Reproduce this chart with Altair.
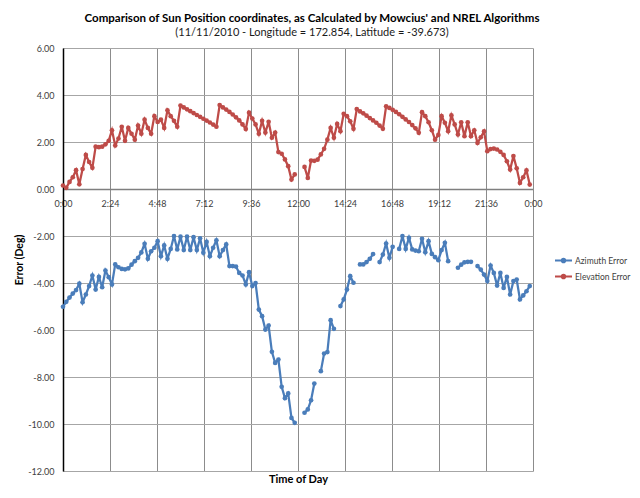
import json
import altair as alt
import pandas as pd

# ---------------- data ----------------
minutes = list(range(0, 1440, 10))  # one sample every 10 minutes

elevation = [
    0.15, 0.05, 0.30, 0.50, 0.80, 0.20, 0.85, 1.45, 1.15, 0.90,
    1.80, 1.78, 1.80, 1.90, 2.05, 2.50, 1.85, 2.15, 2.65, 2.05,
    2.60, 2.35, 2.10, 2.70, 2.35, 2.95, 2.60, 2.35, 3.10, 2.85,
    2.95, 2.60, 3.35, 3.10, 2.90, 2.65, 3.55, 3.47, 3.39, 3.31,
    3.23, 3.15, 3.07, 2.99, 2.91, 2.83, 2.74, 2.65, 3.57, 3.47,
    3.38, 3.28, 3.17, 3.05, 2.92, 2.75, 2.55, 3.25, 3.00, 2.75,
    2.35, 2.90, 2.40, 2.86, 2.18, 2.40, 1.57, 1.50, 1.26, 0.97,
    0.40, 0.62, None, None, 0.94, 0.47, 1.21, 1.20, 1.25, 1.47,
    1.71, 2.10, 2.60, 2.18, 2.77, 2.46, 3.20, 3.10, 2.88, 2.56,
    3.40, 3.30, 3.22, 3.12, 3.02, 2.92, 2.82, 2.70, 2.56, 3.52,
    3.45, 3.37, 3.28, 3.18, 3.07, 2.96, 2.85, 2.72, 2.58, 2.39,
    3.27, 3.10, 2.84, 2.50, 2.10, 2.30, 3.10, 2.82, 2.46, 3.13,
    2.75, 2.32, 2.84, 2.25, 2.84, 2.25, 2.50, 1.96, 2.20, 2.45,
    1.61, 1.70, 1.72, 1.68, 1.58, 1.45, 1.18, 0.83, 1.40, 0.88,
    0.26, 0.50, 0.79, 0.19,
]

azimuth = [
    -5.01, -4.80, -4.62, -4.45, -4.30, -4.03, -4.82, -4.49, -4.13, -3.68,
    -4.28, -3.74, -4.18, -3.47, -3.75, -4.06, -3.21, -3.33, -3.40, -3.42,
    -3.38, -3.22, -3.07, -2.93, -2.70, -2.33, -2.97, -2.65, -2.50, -2.22,
    -2.86, -2.40, -2.97, -2.55, -2.00, -2.57, -2.03, -2.60, -2.03, -2.60,
    -2.05, -2.60, -2.10, -2.71, -2.25, -2.86, -2.50, -2.18, -2.86, -2.60,
    -2.36, -3.28, -3.28, -3.30, -3.57, -3.68, -4.06, -3.54, -4.13, -4.00,
    -5.13, -5.41, -5.98, -5.81, -6.93, -7.40, -7.26, -8.42, -8.90, -8.70,
    -9.74, -9.95, None, None, -9.52, -9.38, -8.99, -8.28, None, -7.75,
    -7.00, -6.94, -5.58, -5.95, None, -4.98, -4.70, -4.28, -3.71, -3.99,
    None, -3.21, -3.21, -3.11, -2.97, -2.77, None, -3.11, -2.79, -2.32,
    -2.93, -2.46, None, -2.55, -2.00, -2.55, -2.08, -2.57, -2.62, -2.65,
    -2.12, -2.69, -2.22, -2.76, -2.90, -3.03, -2.60, -2.29, -3.07, None,
    None, -3.35, -3.22, -3.12, -3.10, -3.10, None, -3.28, -3.43, -3.64,
    -3.92, -3.26, -3.57, -4.11, -3.57, -4.21, -3.74, -4.49, -3.92, -3.85,
    -4.70, -4.53, -4.35, -4.13,
]

series_names = ["Azimuth Error", "Elevation Error"]
series_colors = ["#4A7DBA", "#BE4B48"]

tick_hours = [0, 2.4, 4.8, 7.2, 9.6, 12, 14.4, 16.8, 19.2, 21.6, 24]
tick_labels = ["0:00", "2:24", "4:48", "7:12", "9:36", "12:00",
               "14:24", "16:48", "19:12", "21:36", "0:00"]
y_ticks = [-12, -10, -8, -6, -4, -2, 0, 2, 4, 6]

title_text = "Comparison of Sun Position coordinates, as Calculated by Mowcius' and NREL Algorithms"
subtitle_text = "(11/11/2010 - Longitude = 172.854, Latitude = -39.673)"

# ---------------- table ----------------
rows = []
for m, a, e in zip(minutes, azimuth, elevation):
    rows.append({"hour": m / 60, "series": series_names[0], "value": a})
    rows.append({"hour": m / 60, "series": series_names[1], "value": e})
df = pd.DataFrame(rows)

# ---------------- layout / style ----------------
W, H = 470, 423
Y_MIN, Y_MAX = y_ticks[0], y_ticks[-1]
FONT = "Lato"
zero_offset = -H * (0 - Y_MIN) / (Y_MAX - Y_MIN)

x_scale = alt.Scale(domain=[tick_hours[0], tick_hours[-1]], nice=False, zero=False)
y_scale = alt.Scale(domain=[Y_MIN, Y_MAX], nice=False)

label_expr = f"{json.dumps(tick_labels)}[round(datum.value / {tick_hours[1]})]"

x_axis_main = alt.Axis(
    orient="bottom", values=tick_hours, labels=False, ticks=False, domain=False,
    grid=True, gridColor="#8C8C8C", gridWidth=1,
    title="Time of Day", titleFont=FONT, titleFontSize=11, titleFontWeight="bold",
    titleColor="#000000", titlePadding=2,
)
x_axis_zero = alt.Axis(
    orient="bottom", offset=zero_offset, values=tick_hours, labelExpr=label_expr,
    labelFont=FONT, labelFontSize=9, labelColor="#404040", labelPadding=10,
    labelFlush=False, ticks=False, domain=True, domainColor="#7F7F7F",
    domainWidth=1.5, grid=False, title=None,
)
y_axis = alt.Axis(
    values=y_ticks, labelExpr="replace(format(datum.value, '.2f'), '\u2212', '-')",
    labelFont=FONT, labelFontSize=9, labelColor="#404040", labelPadding=9,
    ticks=False, domain=True, domainColor="#000000", domainWidth=1.5,
    grid=True, gridColor="#A6A6A6", gridWidth=1,
    title="Error (Deg)", titleFont=FONT, titleFontSize=10.5, titleFontWeight="bold",
    titleColor="#000000", titleX=-44, titleBaseline="middle",
)

legend_props = dict(
    orient="none", legendX=491, legendY=203, title=None,
    symbolType="M-1,0L1,0M-0.22,0A0.22,0.22,0,1,1,0.22,0A0.22,0.22,0,1,1,-0.22,0Z",
    symbolSize=289, symbolStrokeWidth=2,
    labelFont=FONT, labelFontSize=8.5, labelColor="#404040", labelOffset=2,
    rowPadding=0, padding=0,
)
color_scale = alt.Scale(domain=series_names, range=series_colors)

base = alt.Chart(df)

lines = base.mark_line(strokeWidth=2.25, invalid="break-paths-show-domains").encode(
    x=alt.X("hour:Q", scale=x_scale, axis=x_axis_main),
    y=alt.Y("value:Q", scale=y_scale, axis=y_axis),
    stroke=alt.Stroke("series:N", scale=color_scale, legend=alt.Legend(**legend_props)),
    order=alt.Order("hour:Q"),
)

points = base.mark_circle(size=22, opacity=1).encode(
    x=alt.X("hour:Q", scale=x_scale, axis=x_axis_zero),
    y=alt.Y("value:Q", scale=y_scale, axis=y_axis),
    fill=alt.Fill("series:N", scale=color_scale, legend=alt.Legend(**legend_props)),
)

chart = (
    alt.layer(lines, points)
    .resolve_axis(x="independent")
    .properties(
        width=W, height=H,
        title=alt.Title(
            title_text, subtitle=subtitle_text, font=FONT, fontSize=11.5,
            fontWeight="bold", color="#000000", subtitleFont=FONT,
            subtitleFontSize=11, subtitleColor="#1A1A1A", subtitlePadding=3,
            anchor="middle", dx=14, offset=6,
        ),
        autosize=alt.AutoSizeParams(type="none"),
        padding={"left": 55, "top": 40, "right": 99, "bottom": 19},
        background="#FFFFFF",
    )
    .configure_view(stroke="transparent")
)

chart.save("out.html", embed_options={"renderer": "svg", "actions": False})
